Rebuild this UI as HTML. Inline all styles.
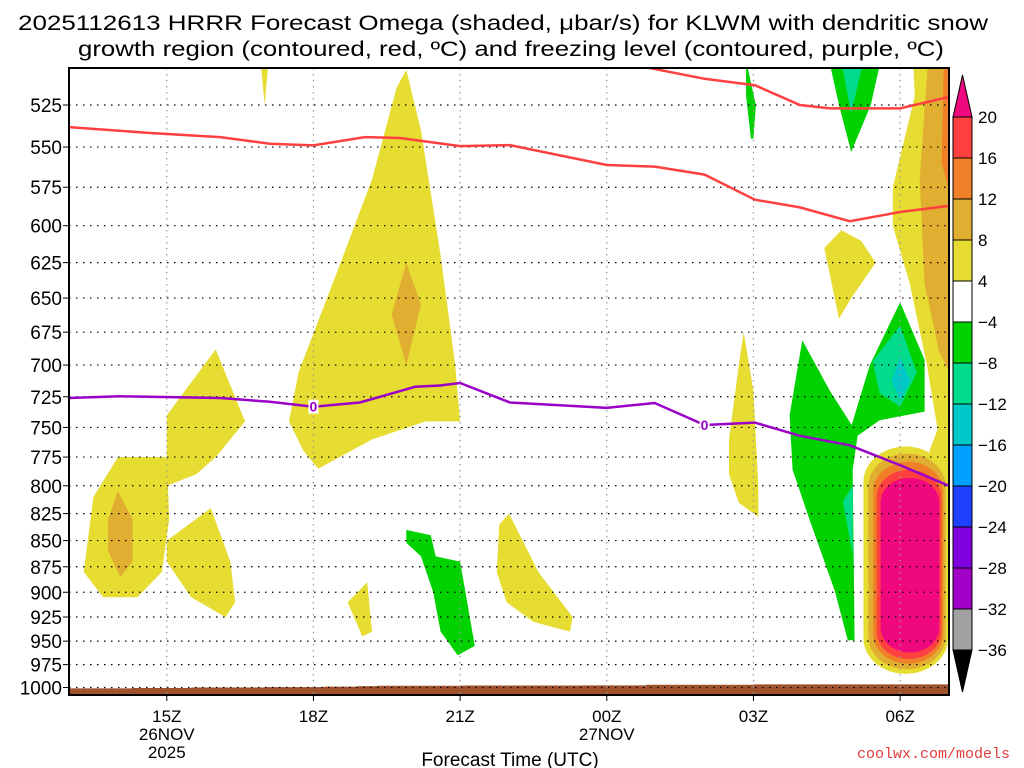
<!DOCTYPE html>
<html><head><meta charset="utf-8"><style>
html,body{margin:0;padding:0;background:#fff;}
svg{display:block;font-family:"Liberation Sans","DejaVu Sans",sans-serif;}
</style></head><body>
<svg id="chart" width="1024" height="768" viewBox="0 0 1024 768" xmlns="http://www.w3.org/2000/svg">
<rect width="1024" height="768" fill="#fff"/>
<text x="18" y="30" font-size="21" textLength="970" lengthAdjust="spacingAndGlyphs">2025112613 HRRR Forecast Omega (shaded, μbar/s) for KLWM with dendritic snow</text>
<text x="78" y="56" font-size="21" textLength="866" lengthAdjust="spacingAndGlyphs">growth region (contoured, red, ºC) and freezing level (contoured, purple, ºC)</text>
<defs><clipPath id="pc"><rect x="69" y="68" width="880" height="627"/></clipPath></defs>
<g id="shade" clip-path="url(#pc)"></g>
<g id="grid"></g>
<g id="lines" clip-path="url(#pc)"></g>
<rect x="69" y="68" width="880" height="627" fill="none" stroke="#000" stroke-width="2"/>
<g id="axes"></g>
<g id="cbar"></g>
<text x="510" y="766" font-size="19" text-anchor="middle">Forecast Time (UTC)</text>
<text x="1010" y="758" font-size="15" fill="#e03c3c" text-anchor="end" font-family="Liberation Mono, monospace">coolwx.com/models</text>
</svg>
<script>
const pressureTicks=[525,550,575,600,625,650,675,700,725,750,775,800,825,850,875,900,925,950,975,1000];
const timeTickHours=[15,18,21,24,27,30];
const timeTickLabels=[["15Z","26NOV","2025"],["18Z"],["21Z"],["00Z","27NOV"],["03Z"],["06Z"]];
const cbarLevels=[20,16,12,8,4,-4,-8,-12,-16,-20,-24,-28,-32,-36];
const cbarColors=["#ff4040","#f08028","#e0ae30","#e6dc32","#ffffff","#00d200","#00dc8c","#00c8c8","#00a0ff","#2040ff","#8000e0","#a000c8","#a0a0a0"];
const yellowBlobs=[
 [[13.3,880],[13.5,810],[14.0,775],[15.0,775],[15.05,830],[14.9,880],[14.4,905],[13.7,905]],
 [[15.0,775],[15.0,740],[16.0,688],[16.6,745],[16.0,775],[15.6,790],[15.0,800]],
 [[15.0,850],[15.9,820],[16.3,870],[16.4,910],[16.2,925],[15.5,905],[15.0,870]],
 [[16.9,495],[17.1,495],[17.0,525]],
 [[17.5,745],[17.7,705],[18.5,630],[19.2,570],[19.7,515],[19.9,505],[20.2,540],[20.6,620],[20.9,700],[21.0,745],[20.3,745],[19.2,760],[18.1,785],[17.8,770]],
 [[21.75,880],[21.8,835],[22.0,825],[22.6,880],[23.3,925],[23.25,940],[22.5,930],[21.95,910]],
 [[18.7,910],[19.1,890],[19.2,940],[19.0,945]],
 [[26.5,760],[26.7,700],[26.8,675],[27.0,720],[27.1,800],[27.1,828],[26.7,815],[26.5,790]],
 [[28.45,615],[28.8,603],[29.2,610],[29.5,625],[29.0,650],[28.75,665]],
 [[30.25,490],[30.3,520],[29.85,575],[29.85,600],[30.2,640],[30.55,700],[30.8,760],[30.8,780],[31.2,790],[31.2,490]],
 [[30.6,770],[30.8,748],[31.2,740],[31.2,800],[30.7,785]]
];
const goldBlobs=[
 [[14.0,805],[14.3,830],[14.3,870],[14.05,885],[13.8,860],[13.8,830]],
 [[19.9,625],[20.2,655],[19.9,700],[19.6,662]],
 [[30.6,490],[30.4,570],[30.5,640],[30.8,690],[31.2,720],[31.2,490]]
];
const orangeBlobs=[[[30.9,490],[30.85,560],[31.2,600],[31.2,490]]];
const greenBlobs=[
 [[19.9,840],[20.4,845],[20.5,865],[21.0,870],[21.3,955],[20.95,965],[20.6,940],[20.45,900],[20.2,865],[19.9,852]],
 [[26.85,500],[27.05,525],[27.0,545],[26.95,545],[26.85,520]],
 [[28.55,500],[29.6,500],[29.4,525],[29.0,553],[28.75,525]],
 [[28.0,681],[28.56,720],[29.01,748],[29.38,700],[30.0,653],[30.5,696],[30.5,737],[29.58,744],[29.13,757],[29.03,786],[29.07,949],[28.93,949],[28.66,898],[28.15,831],[27.8,786],[27.74,740]]
];
const tealBlobs=[
 [[28.8,500],[29.25,500],[29.0,530]],
 [[30.0,670],[30.34,706],[30.0,733],[29.58,722],[29.44,697]],
 [[28.83,814],[29.03,800],[29.03,864]]
];
const cyanBlobs=[[[30.0,694],[30.2,712],[30.0,728],[29.83,712]]];
const coreRings=[["#e6dc32",29.25,30.98,766,985],["#e0ae30",29.35,30.93,772,980],["#f08028",29.45,30.88,779,974],["#ff4040",29.52,30.84,786,969],["#f0087f",29.6,30.8,793,962]];
const dgzUpperH=[24.7,26.0,27.03,27.95,28.56,30.0,31.0];
const dgzUpperP=[503,510,513.6,525,527,527,520.4];
const dgzLowerH=[13,14.66,16.09,17.11,18,19.05,19.77,21,22.02,24,24.98,26.0,27.03,27.95,28.97,30,31];
const dgzLowerP=[538,541.5,544,548,549,544,544.5,549.4,548.8,561,562,567,583,588,597,591,587];
const frzH=[13,14.04,16.09,17.11,18,18.95,20.08,20.59,21,22.02,23.04,24,24.98,26,27.03,27.95,28.97,30,31];
const frzP=[726,724.6,726,729,733,729.6,717,716,714,729.6,731.8,734,730,748,746,757,765,782,800];
const frzLabelH=[18,26];
const sfcH=[13,14.3,15.5,17,18.2,18.9,19.3,21,23.5,24.8,27,31];
const sfcP=[1001,1000.5,1000,999.6,999,998.5,998,997.8,997.6,997,996.6,996.6];

const NS="http://www.w3.org/2000/svg";
const X0=69,X1=949,H0=13,H1=31;
function xs(h){return X0+(h-H0)*(X1-X0)/(H1-H0);}
function ys(p){return 105+Math.log(p/525)*904;}
function mk(tag,attrs,parent){const e=document.createElementNS(NS,tag);for(const k in attrs)e.setAttribute(k,attrs[k]);parent.appendChild(e);return e;}
const shade=document.getElementById('shade'),grid=document.getElementById('grid'),lines=document.getElementById('lines'),axes=document.getElementById('axes'),cbar=document.getElementById('cbar');
function poly(list,color,name){list.forEach(pts=>{const e=mk('polygon',{points:pts.map(q=>xs(q[0]).toFixed(1)+','+ys(q[1]).toFixed(1)).join(' '),fill:color},shade);

});}
poly(yellowBlobs,"#e6dc32","omega-4-8");
poly(goldBlobs,"#e0ae30","omega-8-12");
poly(orangeBlobs,"#f08028","omega-12-16");
poly(greenBlobs,"#00d200","omega-neg4-neg8");
poly(tealBlobs,"#00dc8c","omega-neg8-neg12");
poly(cyanBlobs,"#00c8c8","omega-neg12-neg16");
coreRings.forEach(r=>{const x=xs(r[1]),w=xs(r[2])-x,y=ys(r[3]),h=ys(r[4])-y;
const e=mk('rect',{x:x,y:y,width:w,height:h,rx:w/2,ry:w*0.42,fill:r[0]},shade);

});
let sp='M'+xs(H0)+','+ys(1040);
sfcH.forEach((h,i)=>{const nx=i+1<sfcH.length?sfcH[i+1]:H1;sp+=' L'+xs(h)+','+ys(sfcP[i])+' L'+xs(nx)+','+ys(sfcP[i]);});
sp+=' L'+xs(H1)+','+ys(1040)+'Z';
const sf=mk('path',{d:sp,fill:"#a0522d"},shade);


pressureTicks.forEach(p=>{const y=ys(p);
const g=mk('line',{x1:X0,x2:X1,y1:y,y2:y,stroke:"#000","stroke-width":1.2,"stroke-dasharray":"1.5,5.5"},grid);


mk('line',{x1:X0-6,x2:X0,y1:y,y2:y,stroke:"#000","stroke-width":1},axes);
const t=mk('text',{x:62,y:y+7,"font-size":19,"text-anchor":"end"},axes);t.textContent=p;

});
timeTickHours.forEach((h,i)=>{const x=xs(h);
const g=mk('line',{x1:x,x2:x,y1:68,y2:695,stroke:"#999","stroke-width":1.2,"stroke-dasharray":"1.5,4.5"},grid);


mk('line',{x1:x,x2:x,y1:695,y2:701,stroke:"#000","stroke-width":1},axes);
timeTickLabels[i].forEach((s,j)=>{const t=mk('text',{x:x,y:722+j*18,"font-size":17,"text-anchor":"middle"},axes);t.textContent=s;

});});
function pl(H,P,color,w,name){const e=mk('polyline',{points:H.map((h,i)=>xs(h).toFixed(1)+','+ys(P[i]).toFixed(1)).join(' '),fill:"none",stroke:color,"stroke-width":w},lines);

}
pl(dgzUpperH,dgzUpperP,"#ff4040",2.5,"dgz-upper-line");
pl(dgzLowerH,dgzLowerP,"#ff4040",2.5,"dgz-lower-line");
pl(frzH,frzP,"#9a00c8",2.5,"freezing-level-line");
function interp(H,P,h){for(let i=0;i<H.length-1;i++){if(h>=H[i]&&h<=H[i+1])return P[i]+(P[i+1]-P[i])*(h-H[i])/(H[i+1]-H[i]);}return P[P.length-1];}
frzLabelH.forEach(h=>{const x=xs(h),y=ys(interp(frzH,frzP,h));
mk('rect',{x:x-5,y:y-7,width:10,height:14,fill:"#fff"},lines);
const t=mk('text',{x:x,y:y+5,"font-size":14,"text-anchor":"middle",fill:"#9a00c8","font-weight":"bold"},lines);t.textContent="0";

});
const CX=953,CW=19,CT=117,CS=41;
const tt=mk('polygon',{points:`${CX},${CT} ${CX+CW},${CT} ${CX+CW/2},${CT-42}`,fill:"#f0087f",stroke:"#000","stroke-width":1},cbar);


cbarColors.forEach((c,i)=>{const r=mk('rect',{x:CX,y:CT+i*CS,width:CW,height:CS,fill:c,stroke:"#000","stroke-width":1},cbar);

});
const bb=CT+cbarColors.length*CS;
const bt=mk('polygon',{points:`${CX},${bb} ${CX+CW},${bb} ${CX+CW/2},${bb+42}`,fill:"#000",stroke:"#000","stroke-width":1},cbar);


cbarLevels.forEach((v,i)=>{const t=mk('text',{x:978,y:CT+i*CS+6,"font-size":17},cbar);t.textContent=v<0?'\u2212'+(-v):v;

});
</script>
</body></html>
